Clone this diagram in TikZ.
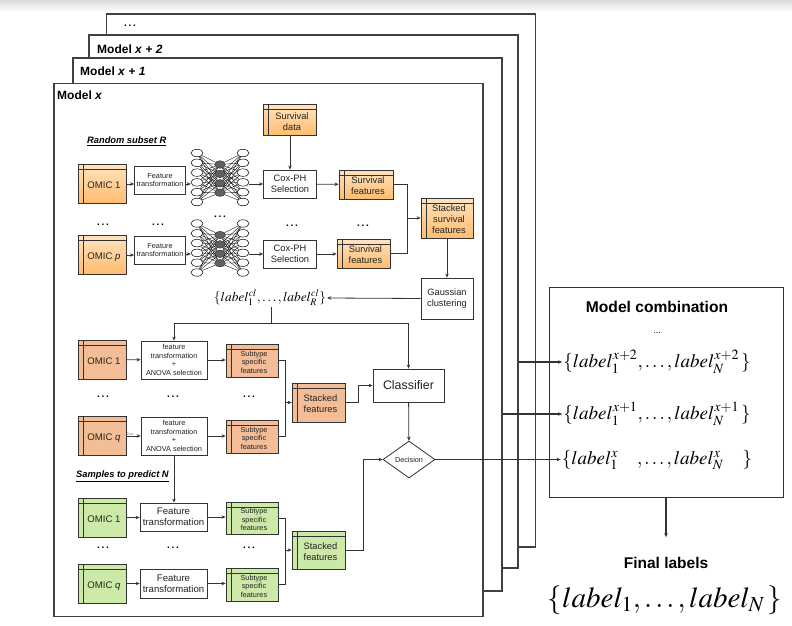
\documentclass[tikz,border=0pt]{standalone}
\usepackage{mathptmx}
\usepackage[no-math]{fontspec}
\setmainfont{Liberation Sans}
\usepackage{tikz}
\usetikzlibrary{arrows.meta}
\usetikzlibrary{shapes.geometric}
\usetikzlibrary{positioning}

\definecolor{orgtop}{HTML}{FFE3BF}
\definecolor{orgbot}{HTML}{FFBC6E}
\definecolor{salm}{HTML}{F3BE97}
\definecolor{grn}{HTML}{CDE9A8}
\definecolor{lineg}{HTML}{333333}
\definecolor{txtc}{HTML}{222222}

\newcommand\tinytxt{\fontsize{7.3}{8.7}\selectfont}
\newcommand\boxtxt{\fontsize{9.3}{11.2}\selectfont}
\newcommand\omictxt{\fontsize{9.6}{11}\selectfont}
\newcommand\dotstxt{\textbf{.\,.\,.}}
% text of a store box sits a little below and right of the middle
\newcommand\st[1]{\raisebox{-2.5pt}[\height][\depth]{\hspace{4pt}\begin{tabular}{@{}c@{}}#1\end{tabular}}}

\tikzset{
  base/.style={draw=lineg, line width=0.8pt, align=center, inner sep=1pt, text=txtc},
  box/.style={base, fill=white},
  store/.style={base, path picture={
      \draw[lineg, line width=0.8pt] ([yshift=-5pt]path picture bounding box.north west) -- ([yshift=-5pt]path picture bounding box.north east);
      \draw[lineg, line width=0.8pt] ([xshift=5pt]path picture bounding box.north west) -- ([xshift=5pt]path picture bounding box.south west);}},
  orgbox/.style={store, top color=orgtop, bottom color=orgbot},
  salbox/.style={store, fill=salm},
  grnbox/.style={store, fill=grn},
  omic/.style={minimum width=48pt, minimum height=39pt, font=\omictxt},
  frame/.style={draw=black!75, line width=1.2pt, fill=white, minimum width=429pt, minimum height=533pt, inner sep=0pt},
  mlabel/.style={anchor=west, inner sep=0pt, font=\bfseries\fontsize{12}{14}\selectfont},
  tlabel/.style={anchor=west, inner sep=0pt, font=\bfseries\fontsize{9.3}{11}\selectfont},
  neuron/.style={draw=black, line width=0.5pt, fill=white, ellipse, minimum width=12pt, minimum height=7.5pt, inner sep=0pt},
  hidden/.style={draw=black!80, line width=0.5pt, fill=black!62, ellipse, minimum width=10.5pt, minimum height=7.5pt, inner sep=0pt},
  syn/.style={black, line width=0.35pt},
  line/.style={draw=lineg, line width=0.8pt},
  arr/.style={line, -{Stealth[length=4pt,width=3.5pt]}},
  decide/.style={base, fill=white, diamond, minimum width=52pt, minimum height=37pt, inner sep=0pt, font=\tinytxt},
  dots/.style={inner sep=0pt, font=\fontsize{10}{10}\selectfont},
  lset/.style={inner sep=1pt, font=\fontsize{19}{21}\selectfont}
}

\begin{document}
\begin{tikzpicture}[x=1pt, y=-1pt]
\useasboundingbox (0,0) rectangle (792,626);
\shade[top color=black!14, bottom color=white] (0,0) rectangle (792,12);

% stacked models
\node[frame] (fr3) at (321,280.5) {};
\node[dots] (t3) at (130,26) {\dotstxt};
\node[frame] (fr2) at (303.5,301.5) {};
\node[mlabel] (t2) at (97,49) {Model \textit{x} + \textit{2}};
\node[frame] (fr1) at (287.5,324.5) {};
\node[mlabel] (t1) at (80,71) {Model \textit{x} + \textit{1}};
\node[frame] (fr0) at (268.5,350) {};
\node[mlabel] (t0) at (57,95) {Model \textit{x}};

% survival part
\node[tlabel] (rsub) at (87,141) {\underline{\textit{Random subset R}}};
\node[orgbox, omic] (omA1) at (102,184) {\st{OMIC 1}};
\node[orgbox, omic] (omAp) at (102,255) {\st{OMIC \textit{p}}};
\node[box, minimum width=51pt, minimum height=28pt, font=\tinytxt] (ftA1) at (160,180) {Feature\\transformation};
\node[box, minimum width=51pt, minimum height=28pt, font=\tinytxt] (ftAp) at (160,250) {Feature\\transformation};
\node[orgbox, minimum width=53pt, minimum height=31pt, font=\boxtxt] (survd) at (290,120) {\st{Survival\\data}};
\node[box, minimum width=53pt, minimum height=28pt, font=\boxtxt] (coxA1) at (290,184) {Cox-PH\\Selection};
\node[box, minimum width=53pt, minimum height=28pt, font=\boxtxt] (coxAp) at (290,254) {Cox-PH\\Selection};
\node[orgbox, minimum width=54pt, minimum height=29pt, font=\boxtxt] (sfA1) at (366,184.5) {\st{Survival\\features}};
\node[orgbox, minimum width=53pt, minimum height=29pt, font=\boxtxt] (sfAp) at (363.5,253.5) {\st{Survival\\features}};
\node[orgbox, minimum width=52pt, minimum height=40pt, font=\boxtxt] (stackA) at (447,218) {\st{Stacked\\survival\\features}};
\node[box, minimum width=52pt, minimum height=41pt, font=\boxtxt] (gauss) at (447,298.5) {Gaussian\\clustering};
\node[inner sep=1pt, font=\fontsize{13.4}{15}\selectfont] (labcl) at (270,298) {$\{label_1^{cl},\ldots,label_R^{cl}\}$};

\foreach \nn/\yy in {A1/153, Ap/223.5} {
  \foreach \i in {1,...,6} {
    \node[neuron] (\nn-in-\i) at (197,{\yy+9.8*(\i-1)}) {};
    \node[neuron] (\nn-out-\i) at (243,{\yy+9.8*(\i-1)}) {};
  }
  \foreach \j in {1,...,4}
    \node[hidden] (\nn-hid-\j) at (220,{\yy+11.5+9.4*(\j-1)}) {};
  \foreach \i in {1,...,6}
    \foreach \j in {1,...,4} {
      \draw[syn] (\nn-in-\i) -- (\nn-hid-\j);
      \draw[syn] (\nn-hid-\j) -- (\nn-out-\i);
    }
}

\node[dots] (dA1) at (103,225) {\dotstxt};
\node[dots] (dA2) at (158,225) {\dotstxt};
\node[dots] (dA3) at (220,217) {\dotstxt};
\node[dots] (dA4) at (292,226) {\dotstxt};
\node[dots] (dA5) at (363,226) {\dotstxt};

\draw[arr] (omA1.east) -- (omA1.east -| ftA1.west);
\draw[arr] (omAp.east) -- (omAp.east -| ftAp.west);
\draw[arr] (ftA1.east |- omA1.east) -- (A1-in-4.west |- omA1.east);
\draw[arr] (ftAp.east |- coxAp.west) -- (Ap-in-4.west |- coxAp.west);
\draw[arr] (A1-out-4.east |- coxA1.west) -- (coxA1.west);
\draw[arr] (Ap-out-4.east |- coxAp.west) -- (coxAp.west);
\draw[arr] (survd) -- (coxA1);
\draw[arr] (coxA1) -- (sfA1);
\draw[arr] (coxAp) -- (coxAp -| sfAp.west);
\coordinate (mA) at (407,218);
\draw[line] (sfA1.east) -| (mA);
\draw[line] (sfAp.east) -| (mA);
\draw[arr] (mA) -- (stackA.west);
\draw[arr] (stackA) -- (gauss);
\draw[arr] (gauss.west) -- (labcl.east);

% classification part
\node[salbox, omic] (omB1) at (102,359.5) {\st{OMIC 1}};
\node[salbox, omic] (omBq) at (102,436) {\st{OMIC \textit{q}}};
\node[box, minimum width=66pt, minimum height=38pt, font=\tinytxt] (ftB1) at (174,360) {feature\\transformation\\+\\ANOVA selection};
\node[box, minimum width=66pt, minimum height=38pt, font=\tinytxt] (ftBq) at (174,436) {feature\\transformation\\+\\ANOVA selection};
\node[salbox, minimum width=52pt, minimum height=33pt, font=\tinytxt] (ssB1) at (252,360.5) {\st{Subtype\\specific\\features}};
\node[salbox, minimum width=52pt, minimum height=33pt, font=\tinytxt] (ssBq) at (252,436.5) {\st{Subtype\\specific\\features}};
\node[salbox, minimum width=53pt, minimum height=39pt, font=\boxtxt] (stackB) at (318.5,402.5) {\st{Stacked\\features}};
\node[box, minimum width=71pt, minimum height=33pt, font=\fontsize{12.4}{14}\selectfont] (classif) at (408.5,385.5) {Classifier};
\node[decide] (decis) at (409,459.5) {Decision};
\node[inner sep=0pt, text=black!55, font=\fontsize{3.5}{4}\selectfont] (txtq) at (130,434.5) {Text};

\node[dots] (dB1) at (103,397) {\dotstxt};
\node[dots] (dB2) at (173,397) {\dotstxt};
\node[dots] (dB3) at (249,397) {\dotstxt};

\coordinate (brk) at (271,323);
\draw[line] (labcl.south -| brk) -- (brk);
\draw[arr] (brk) -| (ftB1.north);
\draw[arr] (brk) -| (classif.north);
\draw[arr] (omB1) -- (ftB1);
\draw[arr] (omBq) -- (ftBq);
\draw[arr] (ftB1) -- (ftB1 -| ssB1.west);
\draw[arr] (ftBq) -- (ftBq -| ssBq.west);
\coordinate (mB) at (285,402.5);
\draw[line] (ssB1.east) -| (mB);
\draw[line] (ssBq.east) -| (mB);
\draw[arr] (mB) -- (stackB.west);
\draw[arr] (stackB.east) -- ++(13,0) |- (classif.west);
\draw[arr] (classif) -- (decis);

% prediction part
\node[tlabel] (samp) at (76,476) {\underline{\textit{Samples to predict N}}};
\node[grnbox, omic] (omC1) at (102,517.5) {\st{OMIC 1}};
\node[grnbox, omic] (omCq) at (102,583.5) {\st{OMIC \textit{q}}};
\node[box, minimum width=67pt, minimum height=28pt, font=\omictxt] (ftC1) at (173.5,517) {Feature\\transformation};
\node[box, minimum width=67pt, minimum height=29pt, font=\omictxt] (ftCq) at (173.5,583.5) {Feature\\transformation};
\node[grnbox, minimum width=52pt, minimum height=32pt, font=\tinytxt] (ssC1) at (252,518) {\st{Subtype\\specific\\features}};
\node[grnbox, minimum width=52pt, minimum height=33pt, font=\tinytxt] (ssCq) at (252,584.5) {\st{Subtype\\specific\\features}};
\node[grnbox, minimum width=53pt, minimum height=38pt, font=\boxtxt] (stackC) at (318.5,550) {\st{Stacked\\features}};

\node[dots] (dC1) at (103,548) {\dotstxt};
\node[dots] (dC2) at (173,548) {\dotstxt};
\node[dots] (dC3) at (249,548) {\dotstxt};

\draw[arr] (ftBq.south) -- (ftBq.south |- ftC1.north);
\draw[arr] (omC1) -- (omC1 -| ftC1.west);
\draw[arr] (omCq) -- (omCq -| ftCq.west);
\draw[arr] (ftC1) -- (ftC1 -| ssC1.west);
\draw[arr] (ftCq) -- (ftCq -| ssCq.west);
\coordinate (mC) at (285,550);
\draw[line] (ssC1.east) -| (mC);
\draw[line] (ssCq.east) -| (mC);
\draw[arr] (mC) -- (stackC.west);
\draw[arr] (stackC.east) -- ++(18,0) |- (decis.west);

% model combination
\node[box, line width=1pt, minimum width=234pt, minimum height=210pt] (mc) at (666,392) {};
\node[inner sep=0pt, font=\bfseries\fontsize{15.6}{17}\selectfont] (mctitle) at (657,307) {Model combination};
\node[inner sep=0pt, font=\fontsize{9}{9}\selectfont] (mcdots) at (657,333) {...};
\node[lset] (lx2) at (657,362) {$\{label_1^{x+2},\ldots,label_N^{x+2}\,\}$};
\node[lset] (lx1) at (657,414) {$\{label_1^{x+1},\ldots,label_N^{x+1}\,\}$};
\node[lset] (lx0) at (657,460) {$\{label_1^{x}\quad,\ldots,label_N^{x}\quad\}$};
\node[inner sep=0pt, font=\bfseries\fontsize{15.5}{17}\selectfont] (flab) at (666,563) {Final labels};
\node[inner sep=0pt, font=\fontsize{29}{31}\selectfont] (fset) at (665,600) {$\{label_1,\ldots,label_N\,\}$};

\draw[arr, line width=1.4pt] (fr2.east |- lx2.west) -- (lx2.west);
\draw[arr, line width=1.4pt] (fr1.east |- lx1.west) -- (lx1.west);
\draw[arr, line width=1.6pt] (decis.east) -- (decis.east -| lx0.west);
\draw[arr, line width=1.2pt, shorten >=20pt] (mc.south) -- (mc.south |- flab.north);
\end{tikzpicture}
\end{document}
